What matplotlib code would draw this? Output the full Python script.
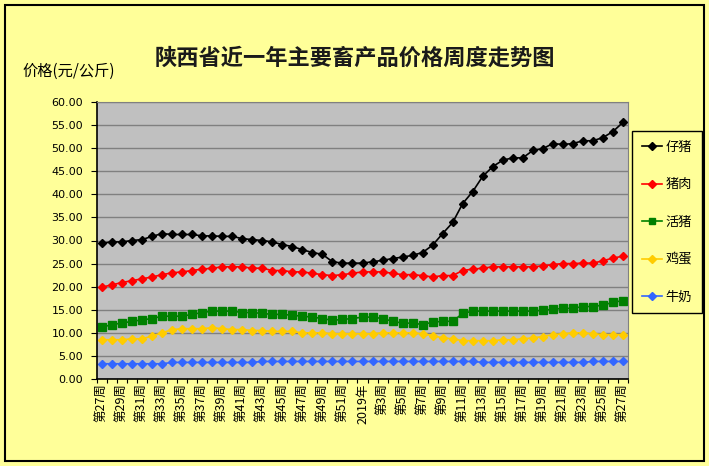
# 陕西省近一年主要畜产品价格周度走势图
import matplotlib.pyplot as plt
from matplotlib.patches import Rectangle
import numpy as np

plt.rcParams['font.family'] = ['Noto Sans CJK SC', 'DejaVu Sans']

# 周次 (2018年第27周 ~ 2019年第27周)
semanas = ['第%d周' % i for i in range(27, 53)] + ['2019年'] + ['第%d周' % i for i in range(2, 28)]

zizhu = [29.4, 29.7, 29.7, 30.0, 30.2, 30.9, 31.5, 31.3, 31.3, 31.3, 31.0, 31.0, 30.9, 30.9,
         30.4, 30.2, 30.0, 29.7, 29.1, 28.7, 28.0, 27.4, 27.0, 25.4, 25.1, 25.1, 25.1, 25.4,
         25.7, 26.1, 26.4, 26.8, 27.4, 29.0, 31.5, 33.9, 38.0, 40.6, 43.9, 46.0, 47.4, 47.9,
         47.9, 49.5, 49.9, 51.0, 50.8, 51.0, 51.6, 51.6, 52.3, 53.6, 55.6]
zhurou = [19.9, 20.4, 20.9, 21.3, 21.7, 22.1, 22.6, 23.0, 23.2, 23.5, 23.8, 24.0, 24.3, 24.3,
          24.3, 24.0, 24.0, 23.5, 23.5, 23.2, 23.2, 22.9, 22.6, 22.4, 22.6, 22.9, 23.2, 23.2,
          23.2, 22.9, 22.6, 22.6, 22.4, 22.1, 22.4, 22.4, 23.5, 23.8, 24.0, 24.3, 24.3, 24.3,
          24.3, 24.3, 24.5, 24.8, 25.0, 25.0, 25.1, 25.1, 25.6, 26.2, 26.6]
huozhu = [11.2, 11.8, 12.1, 12.5, 12.8, 13.1, 13.6, 13.6, 13.6, 14.0, 14.4, 14.7, 14.7, 14.7,
          14.4, 14.4, 14.2, 14.0, 14.0, 13.8, 13.6, 13.4, 13.1, 12.7, 12.9, 13.1, 13.4, 13.4,
          13.1, 12.5, 12.1, 12.1, 11.8, 12.3, 12.5, 12.5, 14.2, 14.7, 14.7, 14.7, 14.7, 14.7,
          14.7, 14.7, 14.9, 15.1, 15.3, 15.3, 15.7, 15.7, 16.0, 16.6, 17.0]
jidan = [8.5, 8.5, 8.5, 8.7, 8.7, 9.3, 10.0, 10.7, 10.9, 10.9, 10.9, 11.1, 10.9, 10.7,
         10.7, 10.5, 10.5, 10.3, 10.3, 10.3, 10.0, 10.0, 10.0, 9.8, 9.8, 9.8, 9.8, 9.8,
         10.0, 10.0, 10.0, 10.0, 9.8, 9.4, 8.9, 8.7, 8.3, 8.3, 8.3, 8.3, 8.5, 8.5,
         8.7, 8.9, 9.2, 9.6, 9.8, 10.0, 10.0, 9.8, 9.6, 9.6, 9.6]
niunai = [3.3] * 7 + [3.6] * 9 + [3.8] * 22 + [3.6] * 11 + [3.8] * 4

series = [zizhu, zhurou, huozhu, jidan, niunai]
nomes = ['仔猪', '猪肉', '活猪', '鸡蛋', '牛奶']
cores = ['#000000', '#FF0000', '#008000', '#FFCC00', '#3366FF']
marcas = ['D', 'D', 's', 'D', 'D']
tamanhos = [4.5, 4.5, 6, 4.5, 4.5]

fig = plt.figure(figsize=(7.09, 4.66), dpi=100)
fig.patch.set_facecolor('#FFFF99')
fig.patches.append(Rectangle((5/709, 5/466), 699/709, 456/466, transform=fig.transFigure,
                             fill=False, edgecolor='black', linewidth=1.5))

ax = fig.add_axes([97/709, 87/466, 531/709, 277/466])
ax.set_facecolor('#C0C0C0')

x = np.arange(len(semanas))
for i in range(len(series)):
    ax.plot(x, series[i], color=cores[i], marker=marcas[i], markersize=tamanhos[i],
            linewidth=1.2, label=nomes[i])

ax.set_xlim(-0.5, len(semanas) - 0.5)
ax.set_ylim(0, 60)
ax.set_yticks(np.arange(0, 61, 5))
ax.set_yticklabels(['%.2f' % v for v in np.arange(0, 61, 5)], fontsize=8, family='DejaVu Sans')
ax.yaxis.grid(True, color='#808080', linewidth=1)
ax.set_axisbelow(True)

# marcas nas fronteiras das categorias, rotulos a cada 2 semanas
ax.set_xticks(np.arange(-0.5, len(semanas), 1))
ax.set_xticklabels([])
ax.set_xticks(x[::2], minor=True)
ax.set_xticklabels(semanas[::2], minor=True, rotation=90, fontsize=9)
ax.tick_params(axis='x', which='major', length=3, direction='out', width=0.8)
ax.tick_params(axis='x', which='minor', length=0, pad=3)
ax.tick_params(axis='y', length=4, direction='out', width=0.8, pad=6)

for s in ['top', 'right']:
    ax.spines[s].set_color('#808080')
for s in ['left', 'bottom']:
    ax.spines[s].set_color('black')
    ax.spines[s].set_linewidth(1.2)

fig.text(355/709, 1 - 58/466, '陕西省近一年主要畜产品价格周度走势图', ha='center', va='center',
         fontsize=16, fontweight='bold', color='#1a1a1a')
fig.text(22/709, 1 - 71/466, '价格(元/公斤)', ha='left', va='center', fontsize=11)

leg = ax.legend(loc='upper left', bbox_to_anchor=(632/709, 1 - 131/466),
                bbox_transform=fig.transFigure, fontsize=9.5, frameon=True, fancybox=False,
                labelspacing=1.85, handlelength=1.5, borderpad=0.75, handletextpad=0.3,
                borderaxespad=0, markerscale=0.8)
leg.get_frame().set_facecolor('#FFFF99')
leg.get_frame().set_edgecolor('black')
leg.get_frame().set_alpha(1)
leg.get_frame().set_linewidth(1)

plt.savefig('out.png', dpi=100, facecolor=fig.get_facecolor())
